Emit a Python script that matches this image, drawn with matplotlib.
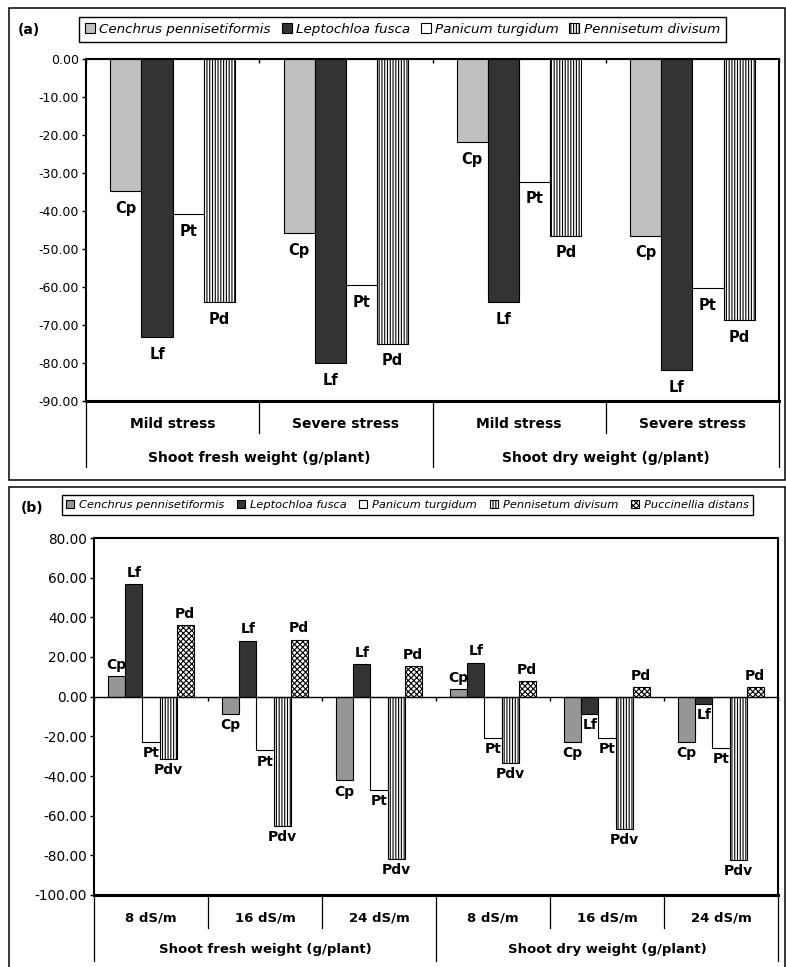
import matplotlib
matplotlib.use("Agg")
import matplotlib.pyplot as plt
import numpy as np
from matplotlib.patches import Rectangle
from matplotlib.ticker import FormatStrFormatter, MultipleLocator
from matplotlib.transforms import blended_transform_factory

# ---------------- data ----------------
# (a) relative change (%) under drought stress
species_a = ["Cenchrus pennisetiformis", "Leptochloa fusca",
             "Panicum turgidum", "Pennisetum divisum"]
abbr_a = ["Cp", "Lf", "Pt", "Pd"]
stress_levels = ["Mild stress", "Severe stress", "Mild stress", "Severe stress"]
traits = ["Shoot fresh weight (g/plant)", "Shoot dry weight (g/plant)"]
cp_a = [-34.7, -45.8, -21.8, -46.5]
lf_a = [-73.1, -80.0, -63.9, -81.8]
pt_a = [-40.8, -59.5, -32.3, -60.3]
pd_a = [-63.9, -74.9, -46.5, -68.7]

# (b) relative change (%) under salinity
species_b = ["Cenchrus pennisetiformis", "Leptochloa fusca", "Panicum turgidum",
             "Pennisetum divisum", "Puccinellia distans"]
abbr_b = ["Cp", "Lf", "Pt", "Pdv", "Pd"]
salinity = ["8 dS/m", "16 dS/m", "24 dS/m", "8 dS/m", "16 dS/m", "24 dS/m"]
cp_b = [10.2, -8.7, -42.2, 4.0, -23.0, -23.0]
lf_b = [56.6, 28.3, 16.4, 17.2, -8.5, -3.7]
pt_b = [-23.0, -27.1, -47.1, -21.0, -20.8, -25.8]
pdv_b = [-31.3, -65.2, -81.6, -33.3, -66.8, -82.3]
pd_b = [35.9, 28.8, 15.6, 7.7, 4.8, 4.8]

# ---------------- style ----------------
W, H = 786, 967
plt.rcParams["font.family"] = ["DejaVu Sans"]
plt.rcParams["axes.unicode_minus"] = False
plt.rcParams["hatch.linewidth"] = 0.8

fig = plt.figure(figsize=(W / 100, H / 100), dpi=100)


def fx(px):
    return px / W


def fy(py):
    return 1 - py / H


def panel_box(top, bottom):
    fig.patches.append(Rectangle((fx(9), fy(bottom)), fx(785) - fx(9), fy(top) - fy(bottom),
                                 transform=fig.transFigure, fill=False,
                                 edgecolor="black", linewidth=1.1))


def make_axes(left, top, right, bottom):
    return fig.add_axes([fx(left), fy(bottom), fx(right) - fx(left), fy(top) - fy(bottom)])


def style_axes(ax, ngroups, ymin, ymax, step, tick_size, zero_lw):
    ax.set_xlim(-0.5, ngroups - 0.5)
    ax.set_ylim(ymin, ymax)
    ax.yaxis.set_major_locator(MultipleLocator(step))
    ax.yaxis.set_major_formatter(FormatStrFormatter("%.2f"))
    ax.tick_params(axis="y", direction="out", length=3, width=1, pad=2,
                   labelsize=tick_size, colors="black")
    for side in ("left", "right"):
        ax.spines[side].set_linewidth(1.5)
    ax.spines["bottom"].set_linewidth(2.2)
    # category axis crosses at zero
    ax.spines["top"].set_position(("data", 0))
    ax.spines["top"].set_linewidth(zero_lw)
    ax.xaxis.set_ticks_position("top")
    ax.set_xticks(np.arange(ngroups + 1) - 0.5)
    ax.tick_params(axis="x", direction="in", length=3, width=1,
                   labeltop=False, labelbottom=False)
    if ymax > 0:
        ax.plot([0, 1], [1, 1], transform=ax.transAxes, color="black",
                lw=1.5, clip_on=False, solid_capstyle="projecting")


def category_axis(ax, inner, outer, inner_drop, outer_drop, row1, row2, size):
    ax_h = ax.get_position().height * H
    tr = blended_transform_factory(ax.transData, ax.transAxes)
    n = len(inner)
    per = n // len(outer)
    for k in range(n + 1):
        drop = outer_drop if k % per == 0 else inner_drop
        ax.plot([k - 0.5, k - 0.5], [0, -drop / ax_h], transform=tr,
                color="black", lw=0.9, clip_on=False)
    for i, lab in enumerate(inner):
        ax.text(i, -row1 / ax_h, lab, transform=tr, ha="center", va="center",
                fontsize=size, fontweight="bold")
    for j, lab in enumerate(outer):
        ax.text(j * per + (per - 1) / 2, -row2 / ax_h, lab, transform=tr,
                ha="center", va="center", fontsize=size, fontweight="bold")


def grouped_bars(ax, series, styles, names, width):
    m = len(series)
    x = np.arange(len(series[0]))
    handles = []
    for i, (vals, st, name) in enumerate(zip(series, styles, names)):
        bars = ax.bar(x + (i - (m - 1) / 2) * width, vals, width,
                      facecolor=st[0], hatch=st[1], edgecolor="black",
                      linewidth=0.8, label=name, zorder=2)
        handles.append(bars)
    return handles


def bar_labels(ax, handles, series, abbrs, gap, size):
    for bars, vals, ab in zip(handles, series, abbrs):
        for rect, v in zip(bars, vals):
            xc = rect.get_x() + rect.get_width() / 2
            up = v >= 0
            ax.annotate(ab, (xc, v), xytext=(0, gap if up else -gap),
                        textcoords="offset points", ha="center",
                        va="bottom" if up else "top",
                        fontsize=size, fontweight="bold", zorder=3)


# ---------------- panel (a) ----------------
panel_box(8, 480)
ax_a = make_axes(86, 59, 779, 401)
series_a = [cp_a, lf_a, pt_a, pd_a]
styles_a = [("#C0C0C0", None), ("#333333", None), ("white", None), ("white", "||||||")]
h_a = grouped_bars(ax_a, series_a, styles_a, species_a, 0.18)
style_axes(ax_a, 4, -90, 0, 10, 9, 1.5)
bar_labels(ax_a, h_a, series_a, abbr_a, 7, 10.5)
category_axis(ax_a, stress_levels, traits, 32, 66, 23, 57, 10)
fig.text(fx(29), fy(29.5), "(a)", ha="center", va="center", fontsize=10, fontweight="bold")
leg_a = fig.legend(h_a, species_a, loc="center", bbox_to_anchor=(fx(402.5), fy(29.5)),
                   ncol=4, prop={"style": "italic", "size": 9.7}, frameon=True,
                   fancybox=False, edgecolor="black", framealpha=1,
                   handlelength=0.75, handleheight=0.75, handletextpad=0.3,
                   columnspacing=0.8, borderpad=0.45, borderaxespad=0)
leg_a.get_frame().set_linewidth(1.0)

# ---------------- panel (b) ----------------
panel_box(487, 990)
ax_b = make_axes(94, 538, 778, 895)
series_b = [cp_b, lf_b, pt_b, pdv_b, pd_b]
styles_b = [("#969696", None), ("#333333", None), ("white", None),
            ("white", "||||||"), ("white", "xxxxxx")]
h_b = grouped_bars(ax_b, series_b, styles_b, species_b, 0.15)
style_axes(ax_b, 6, -100, 80, 20, 9.8, 1.0)
bar_labels(ax_b, h_b, series_b, abbr_b, 3, 10)
category_axis(ax_b, salinity, traits, 33, 66, 23, 55, 9.5)
fig.text(fx(32), fy(508), "(b)", ha="center", va="center", fontsize=10, fontweight="bold")
leg_b = fig.legend(h_b, species_b, loc="center", bbox_to_anchor=(fx(407.5), fy(505)),
                   ncol=5, prop={"style": "italic", "size": 8.2}, frameon=True,
                   fancybox=False, edgecolor="black", framealpha=1,
                   handlelength=0.7, handleheight=0.7, handletextpad=0.45,
                   columnspacing=1.1, borderpad=0.4, borderaxespad=0)
leg_b.get_frame().set_linewidth(1.0)

fig.savefig("out.png", dpi=100)
